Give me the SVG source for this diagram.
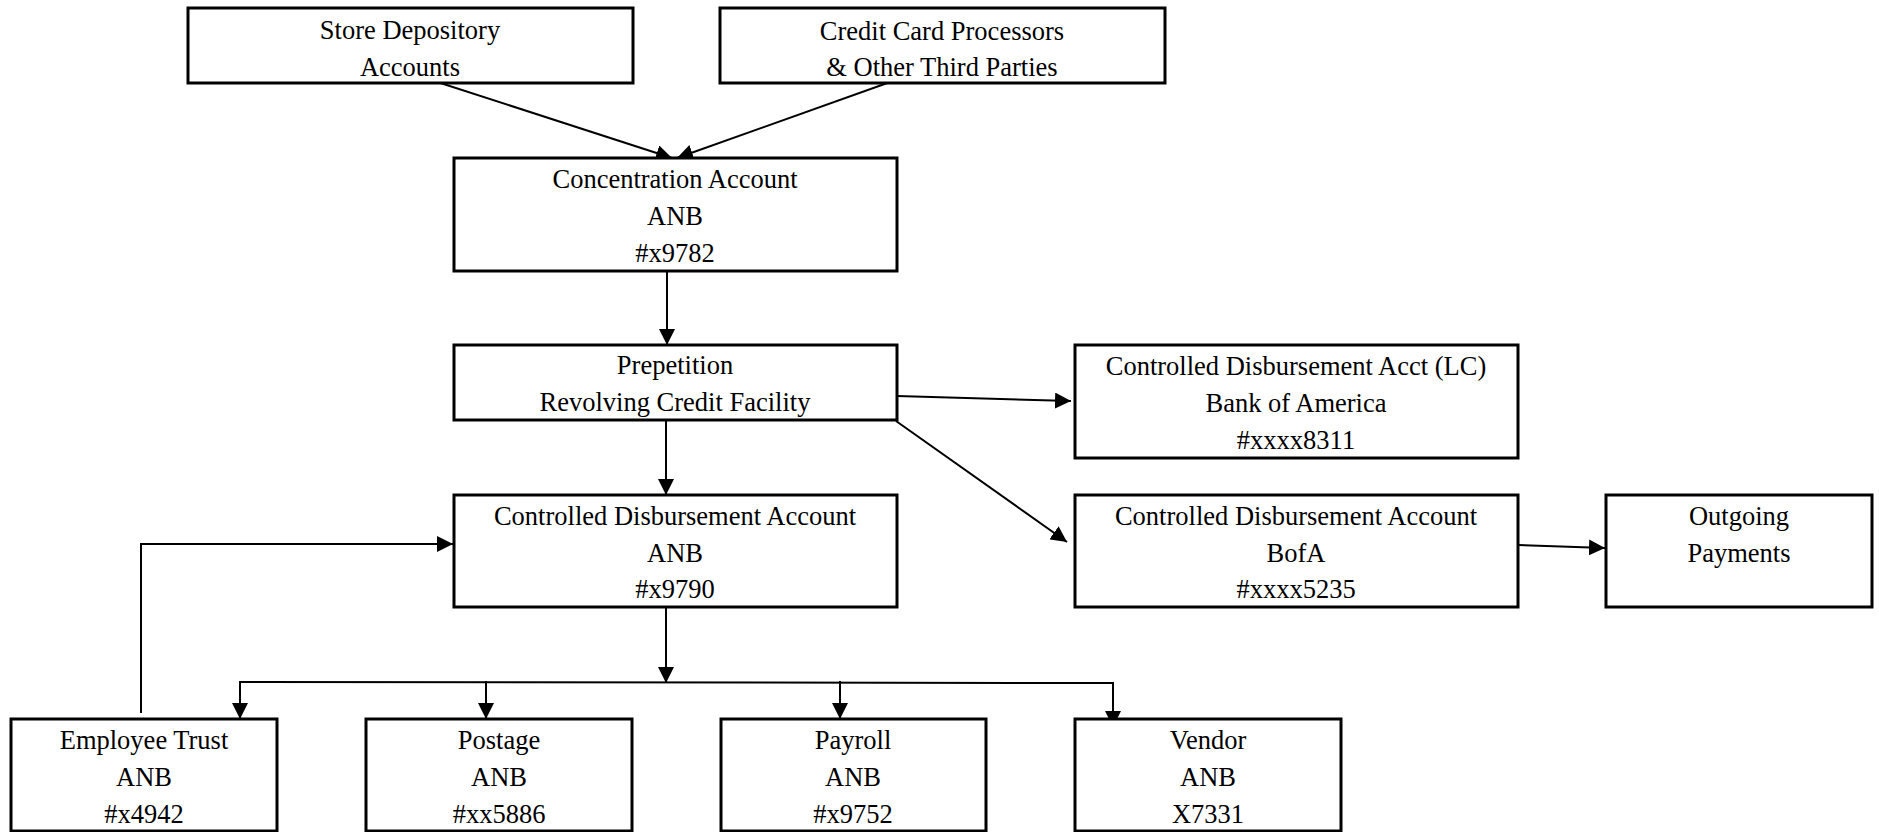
<svg xmlns="http://www.w3.org/2000/svg" width="1879" height="832" viewBox="0 0 1879 832">
<style>
.box{fill:#fff;stroke:#000;stroke-width:3}
.t{font-family:"Liberation Serif","Times New Roman",serif;font-size:26.5px;fill:#000;text-anchor:middle}
.c{fill:none;stroke:#000;stroke-width:2}
.a{marker-end:url(#arr)}
</style>
<defs>
<marker id="arr" markerUnits="userSpaceOnUse" markerWidth="16" markerHeight="16" refX="16" refY="8" orient="auto">
<path d="M0,0 L16,8 L0,16 z" fill="#000"/>
</marker>
</defs>
<rect width="1879" height="832" fill="#fff"/>
<g id="connectors">
<path class="c a" d="M428,79 L672,158"/>
<path class="c a" d="M907,76 L677,158"/>
<path class="c a" d="M667,271 L667,345"/>
<path class="c a" d="M897,396 L1071,401"/>
<path class="c a" d="M896,421 L1067,542"/>
<path class="c a" d="M666,421 L666,495"/>
<path class="c a" d="M1518,545 L1605,548"/>
<path class="c a" d="M666,607 L666,683"/>
<path class="c" d="M239,682 L1114,683"/>
<path class="c a" d="M240,682 L240,719"/>
<path class="c a" d="M486,681 L486,719"/>
<path class="c a" d="M840,681 L840,719"/>
<path class="c a" d="M1113,683 L1113,727"/>
<path class="c a" d="M141,713 L141,544 L453,544"/>
</g>
<g id="store">
<rect class="box" x="188" y="8" width="445" height="75"/>
<text class="t" x="410" y="39">Store Depository</text>
<text class="t" x="410" y="76">Accounts</text>
</g>
<g id="credit">
<rect class="box" x="720" y="8" width="445" height="75"/>
<text class="t" x="942" y="40">Credit Card Processors</text>
<text class="t" x="942" y="76">&amp; Other Third Parties</text>
</g>
<g id="concentration">
<rect class="box" x="454" y="158" width="443" height="113"/>
<text class="t" x="675" y="188">Concentration Account</text>
<text class="t" x="675" y="225">ANB</text>
<text class="t" x="675" y="262">#x9782</text>
</g>
<g id="prepetition">
<rect class="box" x="454" y="345" width="443" height="75"/>
<text class="t" x="675" y="374">Prepetition</text>
<text class="t" x="675" y="411">Revolving Credit Facility</text>
</g>
<g id="cda-anb">
<rect class="box" x="454" y="495" width="443" height="112"/>
<text class="t" x="675" y="525">Controlled Disbursement Account</text>
<text class="t" x="675" y="562">ANB</text>
<text class="t" x="675" y="598">#x9790</text>
</g>
<g id="cda-lc">
<rect class="box" x="1075" y="345" width="443" height="113"/>
<text class="t" x="1296" y="375">Controlled Disbursement Acct (LC)</text>
<text class="t" x="1296" y="412">Bank of America</text>
<text class="t" x="1296" y="449">#xxxx8311</text>
</g>
<g id="cda-bofa">
<rect class="box" x="1075" y="495" width="443" height="112"/>
<text class="t" x="1296" y="525">Controlled Disbursement Account</text>
<text class="t" x="1296" y="562">BofA</text>
<text class="t" x="1296" y="598">#xxxx5235</text>
</g>
<g id="outgoing">
<rect class="box" x="1606" y="495" width="266" height="112"/>
<text class="t" x="1739" y="525">Outgoing</text>
<text class="t" x="1739" y="562">Payments</text>
</g>
<g id="employee">
<rect class="box" x="11" y="719" width="266" height="112"/>
<text class="t" x="144" y="749">Employee Trust</text>
<text class="t" x="144" y="786">ANB</text>
<text class="t" x="144" y="823">#x4942</text>
</g>
<g id="postage">
<rect class="box" x="366" y="719" width="266" height="112"/>
<text class="t" x="499" y="749">Postage</text>
<text class="t" x="499" y="786">ANB</text>
<text class="t" x="499" y="823">#xx5886</text>
</g>
<g id="payroll">
<rect class="box" x="721" y="719" width="265" height="112"/>
<text class="t" x="853" y="749">Payroll</text>
<text class="t" x="853" y="786">ANB</text>
<text class="t" x="853" y="823">#x9752</text>
</g>
<g id="vendor">
<rect class="box" x="1075" y="719" width="266" height="112"/>
<text class="t" x="1208" y="749">Vendor</text>
<text class="t" x="1208" y="786">ANB</text>
<text class="t" x="1208" y="823">X7331</text>
</g>
</svg>
